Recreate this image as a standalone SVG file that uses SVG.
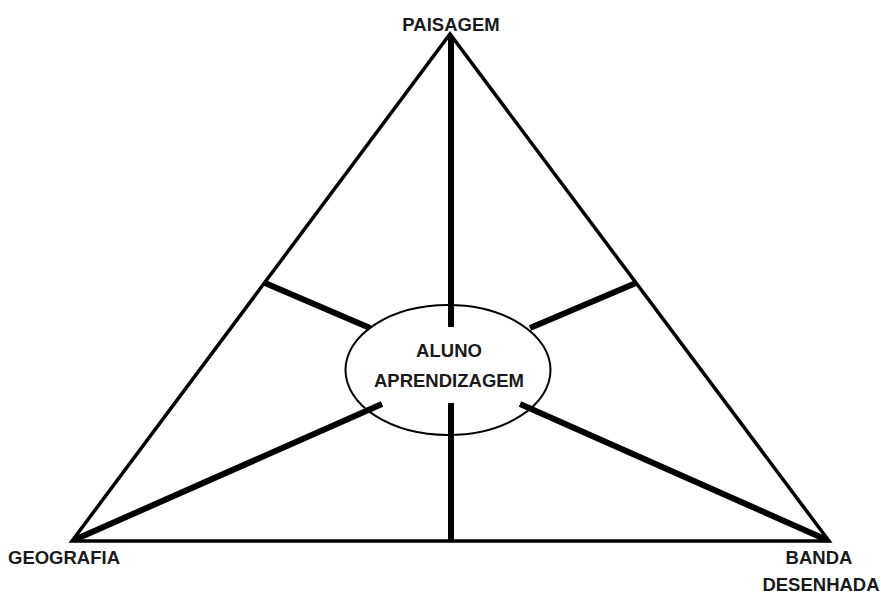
<svg xmlns="http://www.w3.org/2000/svg" width="881" height="596" viewBox="0 0 881 596">
<style>
.lbl{font-family:"Liberation Sans",Arial,sans-serif;font-weight:bold;font-size:18.5px;fill:#1a1a1a}
.side{stroke:#000;stroke-width:3.5;fill:none;stroke-linejoin:miter}
.spoke{stroke:#000;stroke-width:6;fill:none;stroke-linecap:butt}
</style>
<rect width="881" height="596" fill="#fff"/>
<g id="connectors">
<polygon class="side" points="72,541 450,34 829,541"/>
<line class="spoke" x1="451" y1="36" x2="451" y2="327"/>
<line class="spoke" x1="451" y1="403" x2="451" y2="540"/>
<line class="spoke" x1="265" y1="283" x2="370" y2="328"/>
<line class="spoke" x1="636" y1="283" x2="530" y2="328"/>
<line class="spoke" x1="382" y1="404" x2="74" y2="540"/>
<line class="spoke" x1="520" y1="404" x2="827" y2="540"/>
</g>
<g id="centro">
<ellipse cx="448" cy="370" rx="102.5" ry="65" fill="none" stroke="#000" stroke-width="2"/>
<text class="lbl" x="449" y="357" text-anchor="middle">ALUNO</text>
<text class="lbl" x="449" y="387" text-anchor="middle">APRENDIZAGEM</text>
</g>
<g id="paisagem">
<text class="lbl" x="451" y="31" text-anchor="middle">PAISAGEM</text>
</g>
<g id="geografia">
<text class="lbl" x="8" y="564">GEOGRAFIA</text>
</g>
<g id="banda">
<text class="lbl" x="819" y="564" text-anchor="middle">BANDA</text>
<text class="lbl" x="821" y="591" text-anchor="middle">DESENHADA</text>
</g>
</svg>
